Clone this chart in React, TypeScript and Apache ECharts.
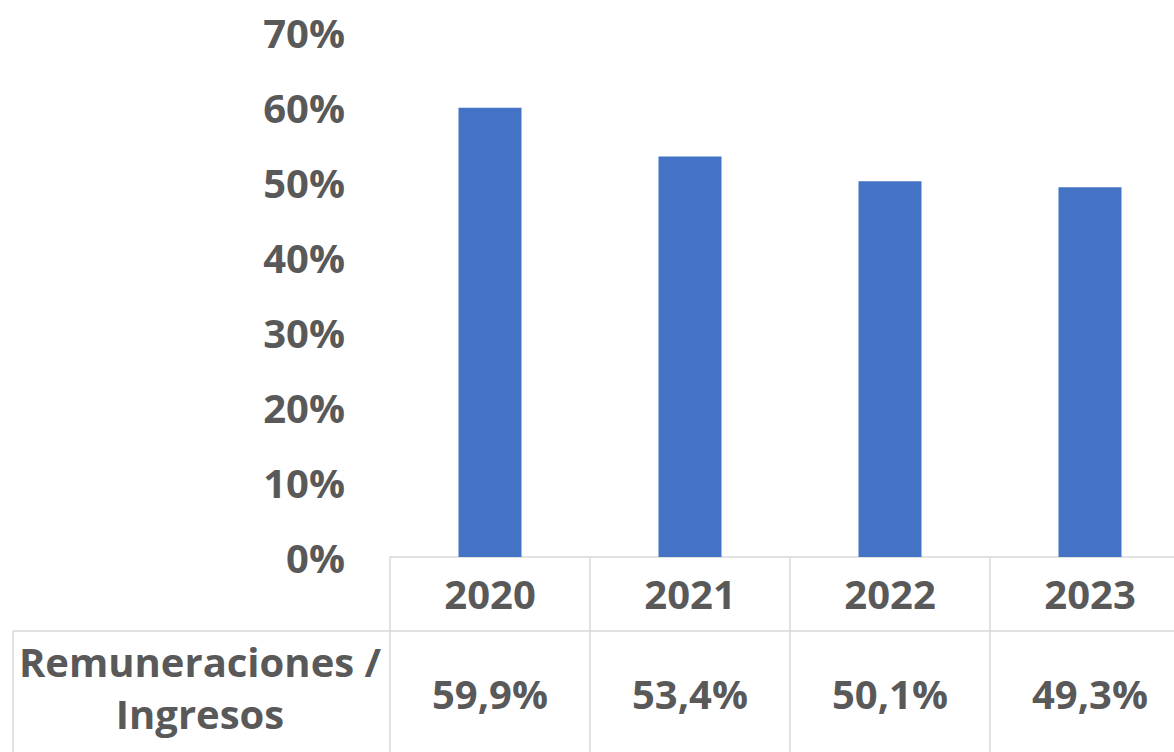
import React, { useEffect, useRef } from "react";
import * as echarts from "echarts";

const years = ["2020", "2021", "2022", "2023"];
const ratios = [0.599, 0.534, 0.501, 0.493];
const rowLabelLines = ["Remuneraciones /", "Ingresos"];
const yTicks = { min: 0, max: 0.7, interval: 0.1 };

const TEXT = "#595959";
const GRID = "#D9D9D9";
const FONT = "Open Sans";
const FS = 40;

export default function App() {
  const ref = useRef<HTMLDivElement>(null);
  useEffect(() => {
    if (!ref.current) return;
    const chart = echarts.init(ref.current, null, { renderer: "svg" });
    const valueLabels = ratios.map((v) => (v * 100).toFixed(1).replace(".", ",") + "%");
    const labelStyle = { color: TEXT, fontFamily: FONT, fontWeight: "bold" as const, fontSize: FS };
    chart.setOption({
      animation: false,
      backgroundColor: "#ffffff",
      grid: { left: 390, top: 32, right: 0, bottom: 195, containLabel: false },
      xAxis: [
        {
          type: "category",
          data: years,
          position: "bottom",
          axisLine: { show: true, lineStyle: { color: GRID, width: 1.5 } },
          axisTick: { show: true, interval: 0, alignWithLabel: false, length: 195, lineStyle: { color: GRID, width: 1.5 } },
          axisLabel: { ...labelStyle, margin: 36, verticalAlign: "middle", interval: 0 },
          splitLine: { show: false },
        },
        {
          type: "category",
          data: valueLabels,
          position: "bottom",
          axisLine: { show: false },
          axisTick: { show: false },
          axisLabel: { ...labelStyle, margin: 136, verticalAlign: "middle", interval: 0 },
          splitLine: { show: false },
        },
      ],
      yAxis: {
        type: "value",
        min: yTicks.min,
        max: yTicks.max,
        interval: yTicks.interval,
        axisLine: { show: false },
        axisTick: { show: false },
        splitLine: { show: false },
        axisLabel: {
          ...labelStyle,
          margin: 45,
          formatter: (v: number) => Math.round(v * 100) + "%",
        },
      },
      series: [
        {
          type: "bar",
          data: ratios,
          xAxisIndex: 0,
          barWidth: 63,
          itemStyle: { color: "#4472C4" },
        },
      ],
      graphic: [
        { type: "line", shape: { x1: 13, y1: 631, x2: 1190, y2: 631 }, style: { stroke: GRID, lineWidth: 1.5 } },
        { type: "line", shape: { x1: 13, y1: 631, x2: 13, y2: 752 }, style: { stroke: GRID, lineWidth: 1.5 } },
        {
          type: "text",
          x: 200,
          y: 661,
          style: { text: rowLabelLines[0], fill: TEXT, font: `bold ${FS}px ${FONT}`, textAlign: "center", textVerticalAlign: "middle" },
        },
        {
          type: "text",
          x: 200,
          y: 713,
          style: { text: rowLabelLines[1], fill: TEXT, font: `bold ${FS}px ${FONT}`, textAlign: "center", textVerticalAlign: "middle" },
        },
      ],
    });
    return () => chart.dispose();
  }, []);
  return (
    <div style={{ position: "absolute", left: 0, top: 0, width: 1174, height: 752, overflow: "hidden" }}>
      <div ref={ref} style={{ width: 1190, height: 752 }} />
    </div>
  );
}
